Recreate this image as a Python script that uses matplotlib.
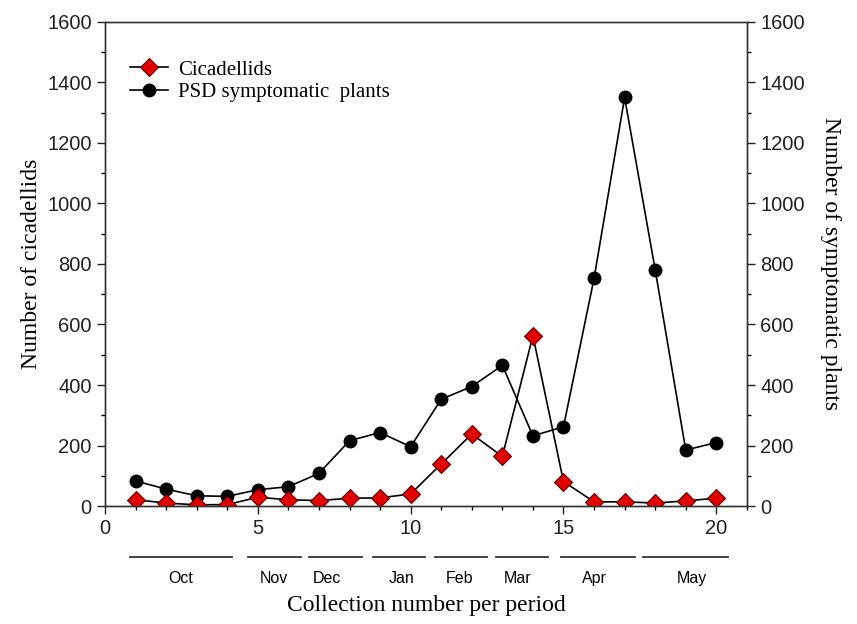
import matplotlib
matplotlib.use("Agg")
import matplotlib.pyplot as plt
import matplotlib.transforms as mtransforms
from matplotlib.ticker import MultipleLocator

# collection number 1..20
collection = list(range(1, 21))
cicadellids = [21, 10, 4, 5, 29, 21, 18, 26, 27, 40,
               139, 238, 164, 563, 81, 14, 14, 10, 17, 26]
psd_plants = [83, 56, 34, 32, 54, 64, 108, 216, 243, 196,
              353, 395, 465, 232, 262, 752, 1350, 781, 185, 210]

# month periods under the x axis (start, end in collection units) and labels
months = ["Oct", "Nov", "Dec", "Jan", "Feb", "Mar", "Apr", "May"]
month_start = [0.83, 4.69, 6.69, 8.77, 10.8, 12.8, 14.93, 17.6]
month_end = [4.16, 6.40, 8.40, 10.47, 12.5, 14.5, 17.33, 20.37]
month_label_x = [2.47, 5.53, 7.27, 9.7, 11.6, 13.5, 16.0, 19.2]

SERIF = "Liberation Serif"
SANS = "Liberation Sans"

fig = plt.figure(figsize=(8.57, 6.24), dpi=100)
ax = fig.add_axes([0.1225, 0.189, 0.749, 0.776])
ax2 = ax.twinx()

ax.plot(collection, psd_plants, color="black", lw=1.2, marker="o",
        markersize=9, markerfacecolor="black", markeredgecolor="black",
        label="PSD symptomatic  plants", zorder=3)
ax.plot(collection, cicadellids, color="black", lw=1.2, marker="D",
        markersize=9, markerfacecolor="#e00000", markeredgecolor="#600000",
        markeredgewidth=0.8, label="Cicadellids", zorder=4)

for a in (ax, ax2):
    a.set_ylim(0, 1600)
    a.yaxis.set_major_locator(MultipleLocator(200))
    a.yaxis.set_minor_locator(MultipleLocator(100))
    for sp in a.spines.values():
        sp.set_linewidth(1.0)
        sp.set_color("#333333")
ax.set_xlim(0, 21)
ax.xaxis.set_major_locator(MultipleLocator(5))
ax.xaxis.set_minor_locator(MultipleLocator(1))

ax.tick_params(axis="both", which="major", direction="out", length=6,
               width=1, labelsize=14.5, colors="#222222")
ax.tick_params(axis="both", which="minor", direction="out", length=3, width=1)
ax2.tick_params(axis="y", which="major", direction="out", length=6,
                width=1, labelsize=14.5, colors="#222222")
ax2.tick_params(axis="y", which="minor", direction="out", length=3, width=1)
for lbl in ax.get_xticklabels() + ax.get_yticklabels() + ax2.get_yticklabels():
    lbl.set_fontfamily(SANS)

ax.set_ylabel("Number of cicadellids", fontsize=17, family=SERIF, labelpad=4)
ax2.set_ylabel("Number of symptomatic plants", fontsize=17, family=SERIF,
               rotation=270, labelpad=26)

# month period bars and labels below the axis
trans = mtransforms.blended_transform_factory(ax.transData, ax.transAxes)
for name, x0, x1, xl in zip(months, month_start, month_end, month_label_x):
    ax.plot([x0, x1], [-0.105, -0.105], transform=trans, color="#333333",
            lw=1.3, clip_on=False)
    ax.text(xl, -0.149, name, transform=trans, ha="center", va="center",
            fontsize=11.5, family=SANS)
ax.text(0.5, -0.205, "Collection number per period", transform=ax.transAxes,
        ha="center", va="center", fontsize=17, family=SERIF)

h, l = ax.get_legend_handles_labels()
ax.legend(h[::-1], l[::-1], loc="upper left", bbox_to_anchor=(0.01, 0.96),
          frameon=False, prop={"family": SERIF, "size": 15},
          handlelength=1.8, handletextpad=0.5, labelspacing=0.15)

fig.savefig("out.png", dpi=100)
